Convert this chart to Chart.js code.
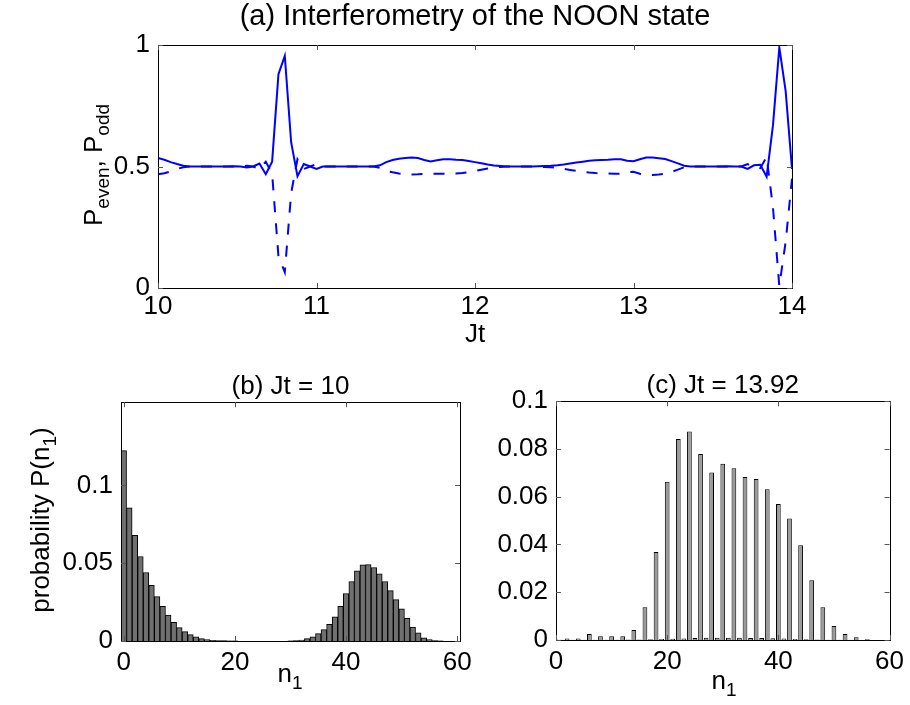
<!DOCTYPE html>
<html>
<head>
<meta charset="utf-8">
<script src="https://cdn.jsdelivr.net/npm/chart.js@4"></script>
<style>
body{margin:0;background:#fff;width:910px;height:705px;position:relative;overflow:hidden;}
canvas{position:absolute;}
</style>
</head>
<body>
<canvas id="chartA" width="910" height="350" style="left:0;top:0"></canvas>
<canvas id="chartB" width="480" height="350" style="left:0;top:355px"></canvas>
<canvas id="chartC" width="440" height="350" style="left:470px;top:355px"></canvas>
<script>
// (a) time axis Jt and the two parities
const jt=[10,10.04,10.08,10.12,10.16,10.2,10.24,10.28,10.32,10.36,10.4,10.44,10.48,10.52,10.56,10.6,10.64,10.68,10.72,10.76,10.8,10.84,10.88,10.92,10.96,
11,11.04,11.08,11.12,11.16,11.2,11.24,11.28,11.32,11.36,11.4,11.44,11.48,11.52,11.56,11.6,11.64,11.68,11.72,11.76,11.8,11.84,11.88,11.92,11.96,
12,12.04,12.08,12.12,12.16,12.2,12.24,12.28,12.32,12.36,12.4,12.44,12.48,12.52,12.56,12.6,12.64,12.68,12.72,12.76,12.8,12.84,12.88,12.92,12.96,
13,13.04,13.08,13.12,13.16,13.2,13.24,13.28,13.32,13.36,13.4,13.44,13.48,13.52,13.56,13.6,13.64,13.68,13.72,13.76,13.8,13.84,13.88,13.92,13.96,14];
const pEven=[0.535,0.528,0.518,0.51,0.503,0.5,0.5,0.5,0.5,0.5,0.5,0.5,0.501,0.5,0.496,0.5,0.512,0.468,0.52,0.88,0.955,0.6,0.46,0.51,0.5,
0.49,0.5,0.5,0.5,0.5,0.5,0.5,0.5,0.5,0.5,0.505,0.518,0.527,0.532,0.535,0.537,0.535,0.527,0.521,0.526,0.53,0.53,0.528,0.527,0.523,
0.518,0.513,0.508,0.504,0.502,0.5,0.5,0.5,0.5,0.5,0.501,0.502,0.503,0.505,0.508,0.512,0.516,0.52,0.524,0.526,0.527,0.528,0.53,0.53,0.524,
0.522,0.53,0.537,0.537,0.534,0.531,0.522,0.513,0.503,0.5,0.5,0.5,0.5,0.5,0.5,0.501,0.5,0.5,0.49,0.505,0.507,0.458,0.67,0.99,0.81,0.49];
const pOdd=[0.468,0.472,0.48,0.49,0.497,0.5,0.5,0.5,0.5,0.5,0.5,0.5,0.5,0.5,0.503,0.5,0.49,0.52,0.47,0.13,0.065,0.39,0.53,0.49,0.5,
0.51,0.5,0.5,0.5,0.5,0.5,0.5,0.5,0.5,0.5,0.495,0.482,0.476,0.471,0.468,0.467,0.468,0.47,0.471,0.47,0.47,0.47,0.471,0.473,0.477,
0.482,0.487,0.492,0.496,0.498,0.5,0.5,0.5,0.5,0.5,0.499,0.498,0.497,0.495,0.49,0.486,0.482,0.478,0.475,0.473,0.472,0.471,0.47,0.47,0.476,
0.478,0.47,0.465,0.465,0.467,0.47,0.478,0.487,0.497,0.5,0.5,0.5,0.5,0.5,0.5,0.5,0.5,0.5,0.51,0.495,0.493,0.54,0.33,0.008,0.19,0.45];
const xTicksA=[10,11,12,13,14];
const yTicksA=[0,0.5,1];

// (b) Jt = 10
const nB=[0,1,2,3,4,5,6,7,8,9,10,11,12,13,14,15,16,17,18,19,20,30,31,32,33,34,35,36,37,38,39,40,41,42,43,44,45,46,47,48,49,50,51,52,53,54,55,56,57];
const probB=[0.1223,0.0856,0.0678,0.0543,0.044,0.0358,0.0285,0.0223,0.0167,0.012,0.0086,0.006,0.0041,0.0026,0.0015,0.0009,0.0005,0.0003,0.0002,0.0001,0.0001,
0.0001,0.0002,0.0006,0.0015,0.0026,0.0047,0.0073,0.0107,0.0155,0.0223,0.0305,0.0382,0.0451,0.0489,0.0491,0.0472,0.0431,0.0382,0.0324,0.0266,0.0206,0.0146,0.009,0.0052,0.0021,0.0009,0.0003,0.0001];
const yTicksB=[0,0.05,0.1];

// (c) Jt = 13.92
const nC=[0,1,2,3,4,5,6,7,8,9,10,11,12,13,14,15,16,17,18,19,20,21,22,23,24,25,26,27,28,29,30,31,32,33,34,35,36,37,38,39,40,41,42,43,44,45,46,47,48,49,50,51,52,53,54,55,56];
const probC=[0.0002,0.0001,0.0006,0.0001,0.0006,0.0001,0.0025,0.0001,0.0016,0.0001,0.0016,0.0001,0.0016,0.0002,0.0042,0.0002,0.0137,0.0003,0.0368,0.0004,
0.0663,0.0005,0.0842,0.0006,0.0873,0.0008,0.0779,0.0009,0.0701,0.0009,0.0738,0.0009,0.0719,0.0009,0.0683,0.0008,0.0674,0.0008,0.0631,0.0007,
0.0569,0.0006,0.0509,0.0004,0.0397,0.0003,0.025,0.0002,0.0137,0.0001,0.0059,0.0001,0.0025,0.0001,0.0011,0,0.0003];
const yTicksC=[0,0.02,0.04,0.06,0.08,0.1];
const xTicksBC=[0,20,40,60];

Chart.defaults.font.family="'Liberation Sans', Arial, Helvetica, sans-serif";
Chart.defaults.font.size=26;
Chart.defaults.color='#000';

const framePlugin={
    id:'frame',
    afterDraw(chart){
        const {ctx,chartArea:a,scales}=chart;
        ctx.save();
        ctx.strokeStyle='#000';
        ctx.lineWidth=1;
        ctx.strokeRect(Math.round(a.left)+0.5,Math.round(a.top)+0.5,Math.round(a.right-a.left),Math.round(a.bottom-a.top));
        ctx.strokeStyle='#555';
        ctx.beginPath();
        scales.x.ticks.forEach(t=>{
            const p=Math.round(scales.x.getPixelForValue(t.value))+0.5;
            ctx.moveTo(p,a.bottom);ctx.lineTo(p,a.bottom-5);
            ctx.moveTo(p,a.top);ctx.lineTo(p,a.top+5);
        });
        scales.y.ticks.forEach(t=>{
            const p=Math.round(scales.y.getPixelForValue(t.value))+0.5;
            ctx.moveTo(a.left,p);ctx.lineTo(a.left+5,p);
            ctx.moveTo(a.right,p);ctx.lineTo(a.right-5,p);
        });
        ctx.stroke();
        ctx.restore();
    }
};

// labels with subscripts, drawn as text
function makeLabels(list){
    return {
        id:'richLabels',
        afterDraw(chart){
            const ctx=chart.ctx;
            list.forEach(lab=>{
                const size=26;
                ctx.save();
                ctx.translate(lab.x,lab.y);
                ctx.rotate(lab.rot||0);
                let total=0;
                lab.parts.forEach(p=>{
                    ctx.font=(p.sub?19:size)+"px 'Liberation Sans', Arial, sans-serif";
                    p.w=ctx.measureText(p.t).width;
                    total+=p.w;
                });
                let x=-total/2;
                ctx.fillStyle='#000';
                ctx.textBaseline='alphabetic';
                lab.parts.forEach(p=>{
                    ctx.font=(p.sub?19:size)+"px 'Liberation Sans', Arial, sans-serif";
                    ctx.fillText(p.t,x,9+(p.sub?7:0));
                    x+=p.w;
                });
                ctx.restore();
            });
        }
    };
}

function tickText(v){
    return String(+Number(v).toFixed(4));
}

function baseScales(xMin,xMax,xTicks,yMin,yMax,yTicks,yWidth,xHeight,xPad){
    return {
        x:{
            type:'linear',min:xMin,max:xMax,offset:false,
            grid:{display:false,drawTicks:false},border:{display:false},
            afterBuildTicks:s=>{s.ticks=xTicks.map(v=>({value:v}));},
            afterFit:s=>{s.height=xHeight;},
            ticks:{padding:xPad,callback:tickText,maxRotation:0,autoSkip:false}
        },
        y:{
            min:yMin,max:yMax,
            grid:{display:false,drawTicks:false},border:{display:false},
            afterBuildTicks:s=>{s.ticks=yTicks.map(v=>({value:v}));},
            afterFit:s=>{s.width=yWidth;},
            ticks:{padding:8,callback:tickText,autoSkip:false}
        }
    };
}

// (a)
const scalesA=baseScales(10,14,xTicksA,0,1,yTicksA,158,62,3);
scalesA.x.title={display:true,text:'Jt',font:{size:26},padding:{top:0,bottom:0}};
new Chart(document.getElementById('chartA'),{
    type:'line',
    data:{
        datasets:[
            {data:jt.map((t,i)=>({x:t,y:pEven[i]})),borderColor:'#0000ff',borderWidth:2,pointRadius:0,tension:0},
            {data:jt.map((t,i)=>({x:t,y:pOdd[i]})),borderColor:'#0000ff',borderWidth:2,borderDash:[11,11],pointRadius:0,tension:0}
        ]
    },
    options:{
        responsive:false,animation:false,
        layout:{padding:{left:0,right:118,top:0,bottom:0}},
        plugins:{
            legend:{display:false},tooltip:{enabled:false},
            title:{display:true,fullSize:false,text:'(a) Interferometry of the NOON state',font:{size:29,weight:'normal'},padding:{top:0,bottom:10.2}}
        },
        scales:scalesA
    },
    plugins:[framePlugin,makeLabels([
        {x:93,y:165,rot:-Math.PI/2,parts:[{t:'P'},{t:'even',sub:true},{t:', P'},{t:'odd',sub:true}]}
    ])]
});

// (b)
new Chart(document.getElementById('chartB'),{
    type:'bar',
    data:{
        datasets:[{
            data:nB.map((n,i)=>({x:n,y:probB[i]})),
            backgroundColor:'#707070',borderColor:'#000',borderWidth:1,
            barPercentage:1,categoryPercentage:1
        }]
    },
    options:{
        responsive:false,animation:false,
        layout:{padding:{left:0,right:20,top:0,bottom:0}},
        plugins:{
            legend:{display:false},tooltip:{enabled:false},
            title:{display:true,fullSize:false,text:'(b) Jt = 10',font:{size:26,weight:'normal'},padding:{top:16,bottom:0}}
        },
        scales:baseScales(-0.5,60.5,xTicksBC,0,0.1534,yTicksB,121,64,6)
    },
    plugins:[framePlugin,makeLabels([
        {x:40,y:165,rot:-Math.PI/2,parts:[{t:'probability P(n'},{t:'1',sub:true},{t:')'}]},
        {x:290,y:318,parts:[{t:'n'},{t:'1',sub:true}]}
    ])]
});

// (c)
new Chart(document.getElementById('chartC'),{
    type:'bar',
    data:{
        datasets:[{
            data:nC.map((n,i)=>({x:n,y:probC[i]})),
            backgroundColor:'#9a9a9a',borderColor:'#000',borderWidth:1,
            barPercentage:0.85,categoryPercentage:1
        }]
    },
    options:{
        responsive:false,animation:false,
        layout:{padding:{left:0,right:18,top:0,bottom:0}},
        plugins:{
            legend:{display:false},tooltip:{enabled:false},
            title:{display:true,fullSize:false,text:'(c) Jt = 13.92',font:{size:26,weight:'normal'},padding:{top:15,bottom:0}}
        },
        scales:baseScales(0,60,xTicksBC,0,0.1,yTicksC,86,65,6)
    },
    plugins:[framePlugin,makeLabels([
        {x:254,y:325,parts:[{t:'n'},{t:'1',sub:true}]}
    ])]
});
</script>
</body>
</html>
